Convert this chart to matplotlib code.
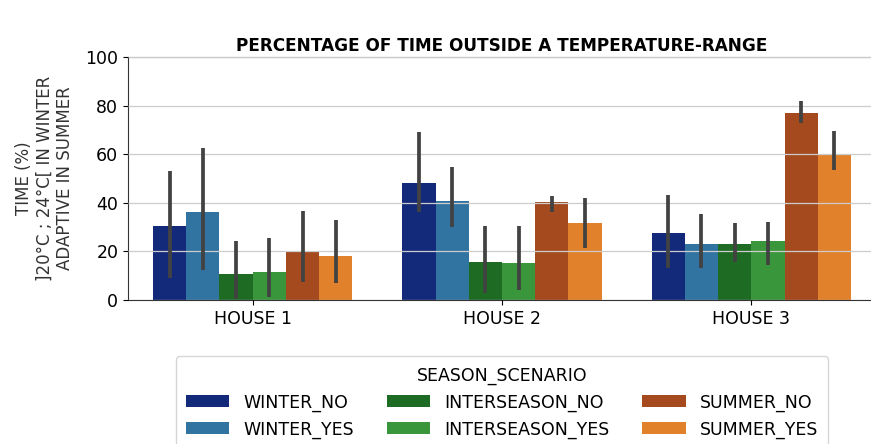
import matplotlib
matplotlib.use("Agg")
import matplotlib.pyplot as plt
import numpy as np

houses = ["HOUSE 1", "HOUSE 2", "HOUSE 3"]
scenarios = ["WINTER_NO", "WINTER_YES", "INTERSEASON_NO",
             "INTERSEASON_YES", "SUMMER_NO", "SUMMER_YES"]
colors = ["#13297a", "#3274a1", "#1e6b24", "#3a963a", "#a54a1f", "#e1812c"]

# mean value per scenario, one entry per house
means = {
    "WINTER_NO":       [30.6, 48.3, 27.4],
    "WINTER_YES":      [36.1, 40.7, 23.0],
    "INTERSEASON_NO":  [10.7, 15.8, 23.0],
    "INTERSEASON_YES": [11.5, 15.1, 24.4],
    "SUMMER_NO":       [19.6, 40.2, 77.1],
    "SUMMER_YES":      [18.2, 31.8, 59.7],
}
# confidence interval low / high
ci_low = {
    "WINTER_NO":       [8.9, 36.3, 13.0],
    "WINTER_YES":      [12.3, 30.2, 13.0],
    "INTERSEASON_NO":  [0.5, 3.0, 15.8],
    "INTERSEASON_YES": [1.4, 4.1, 14.4],
    "SUMMER_NO":       [7.5, 36.3, 72.7],
    "SUMMER_YES":      [6.8, 21.3, 53.5],
}
ci_high = {
    "WINTER_NO":       [53.1, 69.3, 43.2],
    "WINTER_YES":      [62.4, 54.9, 35.3],
    "INTERSEASON_NO":  [24.3, 30.6, 31.6],
    "INTERSEASON_YES": [25.6, 30.6, 32.2],
    "SUMMER_NO":       [36.6, 42.8, 81.9],
    "SUMMER_YES":      [32.9, 42.1, 69.7],
}

fig = plt.figure(figsize=(8.71, 4.44), dpi=100)
ax = fig.add_axes([128 / 871, 144 / 444, 748 / 871, 243 / 444])

x = np.arange(len(houses))
n = len(scenarios)
width = 0.8 / n
for i, (sc, col) in enumerate(zip(scenarios, colors)):
    pos = x - 0.4 + width * (i + 0.5)
    ax.bar(pos, means[sc], width=width, color=col, label=sc, zorder=1)
    ax.vlines(pos, ci_low[sc], ci_high[sc], color="#424242", lw=2.7, zorder=3)

ax.set_xlim(-0.5, 2.5)
ax.set_ylim(0, 100)
ax.set_xticks(x)
ax.set_xticklabels(houses, fontsize=12.5)
ax.tick_params(axis="y", labelsize=12.5)
ax.set_axisbelow(False)
ax.yaxis.grid(True, color="#cccccc", lw=0.9, zorder=2)
ax.set_ylabel("TIME (%)\n]20°C ; 24°C[ IN WINTER\nADAPTIVE IN SUMMER",
              fontsize=12, color="#333333", labelpad=8)
ax.set_title("PERCENTAGE OF TIME OUTSIDE A TEMPERATURE-RANGE",
             fontsize=12.2, fontweight="bold", pad=4)
for s in ax.spines.values():
    s.set_color("#333333")

ax.legend(title="SEASON_SCENARIO", ncol=3, loc="upper center",
          bbox_to_anchor=(0.5, -0.195), fontsize=12.5, title_fontsize=12.5,
          handlelength=2.5, columnspacing=1.9, borderpad=0.6, labelspacing=0.5)

fig.savefig("out.png", dpi=100)
